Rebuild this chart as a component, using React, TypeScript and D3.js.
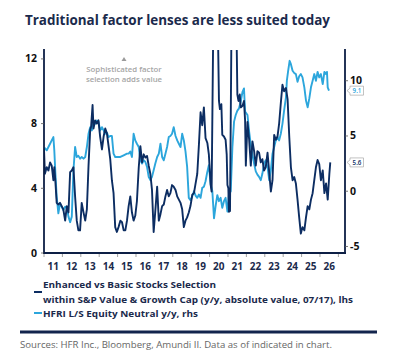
import { useEffect, useRef } from "react";
import * as d3 from "d3";

// Enhanced vs Basic stock selection spread (lhs), decimal years
const darkDates = [
  2011.0, 2011.05, 2011.15, 2011.24, 2011.33, 2011.42, 2011.51, 2011.56, 2011.62, 2011.69, 2011.78, 2011.87, 2011.96,
  2012.05, 2012.15, 2012.24, 2012.33, 2012.42, 2012.51, 2012.6, 2012.69, 2012.78, 2012.87, 2012.96,
  2013.05, 2013.15, 2013.24, 2013.33, 2013.42, 2013.51, 2013.56, 2013.64, 2013.69, 2013.78, 2013.87, 2013.96,
  2014.05, 2014.15, 2014.24, 2014.33, 2014.42, 2014.51, 2014.6, 2014.69, 2014.78, 2014.87, 2014.96,
  2015.05, 2015.15, 2015.24, 2015.33, 2015.42, 2015.51, 2015.6, 2015.69, 2015.78, 2015.87, 2015.96,
  2016.05, 2016.15, 2016.24, 2016.33, 2016.42, 2016.51, 2016.6, 2016.69, 2016.78, 2016.87, 2016.96,
  2017.05, 2017.15, 2017.24, 2017.33, 2017.42, 2017.51, 2017.6, 2017.69, 2017.78, 2017.87, 2017.96,
  2018.05, 2018.15, 2018.24, 2018.33, 2018.42, 2018.51, 2018.6, 2018.69, 2018.78, 2018.87, 2018.96,
  2019.06, 2019.15, 2019.24, 2019.33, 2019.42, 2019.51, 2019.6, 2019.69, 2019.78, 2019.88, 2019.96,
  2020.06, 2020.11, 2020.2, 2020.45, 2020.51, 2020.56, 2020.64, 2020.69, 2020.78, 2020.87, 2020.93, 2020.97,
  2021.02, 2021.05, 2021.11, 2021.19, 2021.46, 2021.51, 2021.57, 2021.64, 2021.69, 2021.79, 2021.87, 2021.93, 2021.97,
  2022.06, 2022.15, 2022.24, 2022.33, 2022.42, 2022.51, 2022.6, 2022.69, 2022.78, 2022.87, 2022.96,
  2023.05, 2023.15, 2023.24, 2023.33, 2023.42, 2023.51, 2023.6, 2023.69, 2023.78, 2023.87, 2023.96,
  2024.05, 2024.15, 2024.24, 2024.33, 2024.42, 2024.51, 2024.6, 2024.69, 2024.78, 2024.87, 2024.96,
  2025.05, 2025.15, 2025.24, 2025.33, 2025.42, 2025.51, 2025.6, 2025.69, 2025.78, 2025.87, 2025.96,
  2026.05, 2026.15, 2026.24, 2026.33, 2026.42, 2026.51, 2026.56,
];
const darkValues = [
  6.4, 4.9, 5.3, 5.1, 5.6, 5.4, 4.5, 5.3, 4.4, 3.1, 3.0, 3.1, 2.9,
  2.7, 2.0, 2.9, 2.5, 5.0, 5.1, 5.3, 3.5, 2.0, 1.4, 1.4,
  3.1, 2.5, 2.0, 2.7, 5.4, 7.6, 7.8, 9.15, 7.7, 8.2, 8.0, 8.2,
  7.2, 6.4, 7.2, 7.7, 7.4, 6.6, 5.8, 4.5, 3.7, 1.6, 1.3,
  1.6, 2.0, 1.9, 1.4, 1.4, 2.0, 2.9, 3.5, 2.5, 2.0, 2.3,
  3.2, 5.3, 6.6, 5.6, 6.1, 5.9, 6.0, 5.4, 4.9, 3.9, 1.3,
  2.6, 4.1, 2.0, 2.4, 2.9, 3.0, 3.5, 3.9, 3.5, 3.7, 4.2,
  4.1, 3.9, 3.5, 3.3, 3.1, 2.7, 1.6, 2.0, 2.2, 2.5, 2.9,
  3.6, 3.7, 4.3, 4.9, 6.7, 8.7, 7.9, 9.0, 7.1, 6.8, 6.1,
  4.2, 3.8, 14.0, 14.0, 9.4, 8.9, 9.2, 7.3, 7.2, 7.0, 6.1, 4.2,
  4.0, 2.55, 2.6, 14.0, 14.0, 9.8, 9.4, 9.8, 9.0, 9.1, 9.4, 8.2, 5.4,
  8.1, 7.0, 5.4, 6.9, 6.3, 5.4, 6.3, 6.2, 5.6, 5.8, 5.1,
  5.3, 6.2, 5.0, 3.8, 4.5, 7.3, 7.0, 7.2, 8.0, 9.25, 10.4,
  10.0, 10.2, 9.5, 7.2, 5.3, 4.5, 4.7, 4.3, 3.3, 2.2, 1.2,
  1.6, 1.4, 2.2, 2.9, 2.7, 3.3, 3.7, 4.5, 5.3, 5.75, 5.5,
  4.5, 5.1, 3.7, 4.3, 3.3, 4.9, 5.6,
];

// HFRI L/S Equity Neutral y/y (rhs)
const lightDates = [
  2011.0, 2011.05, 2011.15, 2011.24, 2011.33, 2011.42, 2011.51, 2011.56, 2011.62, 2011.69, 2011.78, 2011.87, 2011.96,
  2012.05, 2012.15, 2012.24, 2012.33, 2012.42, 2012.51, 2012.6, 2012.69, 2012.78, 2012.87, 2012.96,
  2013.05, 2013.15, 2013.24, 2013.33, 2013.42, 2013.51, 2013.6, 2013.69, 2013.78, 2013.87, 2013.96,
  2014.05, 2014.15, 2014.24, 2014.33, 2014.42, 2014.51, 2014.6, 2014.69, 2014.78, 2014.87, 2014.96,
  2015.15, 2015.33, 2015.51, 2015.6, 2015.69, 2015.78, 2015.87, 2015.96,
  2016.05, 2016.15, 2016.24, 2016.33, 2016.42, 2016.51, 2016.6, 2016.69, 2016.78, 2016.87, 2016.96,
  2017.05, 2017.15, 2017.24, 2017.33, 2017.42, 2017.51, 2017.6, 2017.69, 2017.78, 2017.87, 2017.96,
  2018.05, 2018.15, 2018.24, 2018.33, 2018.42, 2018.51, 2018.6, 2018.69, 2018.78, 2018.87, 2018.96,
  2019.05, 2019.15, 2019.24, 2019.33, 2019.42, 2019.51, 2019.6, 2019.69, 2019.78, 2019.87, 2019.96,
  2020.06, 2020.15, 2020.24, 2020.33, 2020.42, 2020.51, 2020.6, 2020.69, 2020.78, 2020.87, 2020.97,
  2021.05, 2021.15, 2021.24, 2021.33, 2021.42, 2021.51, 2021.6, 2021.69, 2021.79, 2021.87, 2021.93,
  2022.06, 2022.15, 2022.24, 2022.33, 2022.42, 2022.51, 2022.6, 2022.69, 2022.78, 2022.87, 2022.96,
  2023.05, 2023.15, 2023.24, 2023.33, 2023.42, 2023.51, 2023.6, 2023.69, 2023.78, 2023.87, 2023.96,
  2024.05, 2024.15, 2024.2, 2024.27, 2024.35, 2024.42, 2024.51, 2024.6, 2024.69, 2024.78, 2024.87, 2024.96,
  2025.05, 2025.15, 2025.24, 2025.33, 2025.42, 2025.51, 2025.6, 2025.69, 2025.78, 2025.87, 2025.96,
  2026.05, 2026.15, 2026.24, 2026.33, 2026.38, 2026.42, 2026.49,
];
const lightValues = [
  3.7, 3.9, 3.7, 4.0, 4.3, 4.6, 4.9, 3.7, 1.6, -0.5, -2.0, -1.1, -1.4,
  -1.7, -1.4, -1.5, -2.3, -2.8, -2.3, 1.9, 4.0, 3.1, 3.2, 2.95,
  3.1, 2.95, 3.1, 4.0, 5.2, 5.8, 5.5, 6.1, 6.1, 6.4, 6.3,
  5.5, 5.8, 5.5, 5.2, 5.3, 4.9, 5.0, 5.0, 3.4, 3.1, 3.1,
  3.1, 3.25, 3.4, 3.4, 3.6, 3.1, 5.2, 4.6,
  4.3, 4.0, 2.8, 2.5, 2.8, 2.65, 2.2, 1.3, 1.0, 1.3, 1.9,
  2.5, 3.1, 3.4, 4.3, 3.1, 2.8, 3.4, 4.0, 4.9, 5.0, 5.2,
  5.8, 5.0, 4.6, 4.3, 4.0, 5.2, 4.6, 3.6, 2.2, -0.6, -0.8,
  -0.5, 0.0, -0.4, -0.6, -0.3, -0.6, 0.3, 0.4, 0.9, 1.7, 2.35,
  0.6, 0.0, -2.45, -1.3, -0.35, -0.9, -0.6, -1.5, -0.9, -0.6, -1.85,
  -0.3, 0.0, 4.0, 6.3, 6.9, 7.3, 7.5, 8.1, 9.0, 9.3, 7.2,
  6.9, 5.4, 4.2, 3.3, 2.5, 1.8, 1.5, 1.3, 1.0, 1.6, 2.5,
  2.8, 2.2, 1.0, 1.9, 3.4, 4.0, 4.6, 4.9, 4.6, 5.2, 6.1,
  7.3, 8.5, 10.0, 10.9, 11.8, 11.5, 10.9, 10.7, 10.6, 9.9, 10.4, 10.6,
  10.3, 9.4, 8.2, 7.6, 8.4, 9.4, 10.0, 10.6, 10.0, 10.8, 10.3,
  10.6, 9.7, 10.8, 10.6, 10.8, 9.4, 9.1,
];

const years = d3.range(2011, 2027);
const yearLabels = years.map((y) => String(y).slice(2));
const leftTicks = [0, 4, 8, 12];
const rightTicks = [-5, 0, 5, 10];

const NAVY = "#0c2d62";
const BLUE = "#2ca6dc";
const INK = "#1b2a4c";
const FONT = "'Open Sans', sans-serif";

export default function App() {
  const svgRef = useRef<SVGSVGElement>(null);

  useEffect(() => {
    if (!svgRef.current) return;
    const svg = d3.select(svgRef.current);
    svg.selectAll("*").remove();

    const left = 44;
    const right = 345;
    const top = 50;
    const bottom = 253;

    const x = d3.scaleLinear().domain([2011, 2027.36]).range([left, right]);
    const yL = d3.scaleLinear().domain([0, 12.55]).range([bottom, top]);
    const yR = d3.scaleLinear().domain([-5.59, 12.78]).range([bottom, top]);

    svg.append("rect").attr("width", 400).attr("height", 360).attr("fill", "#fff");

    // Title
    svg.append("text")
      .attr("x", 25)
      .attr("y", 24.5)
      .attr("font-family", FONT)
      .attr("font-size", 15)
      .attr("font-weight", 700)
      .attr("fill", INK)
      .attr("textLength", 305)
      .attr("lengthAdjust", "spacingAndGlyphs")
      .text("Traditional factor lenses are less suited today");

    svg.append("clipPath")
      .attr("id", "plot-clip")
      .append("rect")
      .attr("x", left)
      .attr("y", top)
      .attr("width", right - left)
      .attr("height", bottom - top);

    const plot = svg.append("g").attr("clip-path", "url(#plot-clip)");

    const lineL = d3.line<number>()
      .x((_, i) => x(darkDates[i]))
      .y((d) => yL(d));
    const lineR = d3.line<number>()
      .x((_, i) => x(lightDates[i]))
      .y((d) => yR(d));

    plot.append("path")
      .attr("d", lineR(lightValues))
      .attr("fill", "none")
      .attr("stroke", BLUE)
      .attr("stroke-width", 1.9)
      .attr("stroke-linejoin", "round");

    plot.append("path")
      .attr("d", lineL(darkValues))
      .attr("fill", "none")
      .attr("stroke", NAVY)
      .attr("stroke-width", 1.9)
      .attr("stroke-linejoin", "round");

    // Axis lines
    const axisG = svg.append("g").attr("stroke", "#0d1f45");
    axisG.append("line").attr("x1", left).attr("x2", left).attr("y1", top - 1).attr("y2", bottom + 1).attr("stroke-width", 1.8);
    axisG.append("line").attr("x1", right).attr("x2", right).attr("y1", top - 1).attr("y2", bottom + 1).attr("stroke-width", 1.8);
    axisG.append("line").attr("x1", left - 1).attr("x2", right + 1).attr("y1", bottom).attr("y2", bottom).attr("stroke-width", 2);

    // Left ticks
    svg.append("g")
      .selectAll("line")
      .data(leftTicks)
      .join("line")
      .attr("x1", left - 3)
      .attr("x2", left)
      .attr("y1", (d) => yL(d))
      .attr("y2", (d) => yL(d))
      .attr("stroke", "#555")
      .attr("stroke-width", 0.8);
    svg.append("g")
      .selectAll("text")
      .data(leftTicks)
      .join("text")
      .attr("x", left - 7)
      .attr("y", (d) => yL(d) + 3.5)
      .attr("text-anchor", "end")
      .attr("font-family", FONT)
      .attr("font-size", 10.5)
      .attr("font-weight", 700)
      .attr("fill", "#111")
      .text((d) => d);

    // Right ticks
    svg.append("g")
      .selectAll("line")
      .data(rightTicks)
      .join("line")
      .attr("x1", right)
      .attr("x2", right + 3)
      .attr("y1", (d) => yR(d))
      .attr("y2", (d) => yR(d))
      .attr("stroke", "#555")
      .attr("stroke-width", 0.8);
    svg.append("g")
      .selectAll("text")
      .data(rightTicks)
      .join("text")
      .attr("x", right + 5)
      .attr("y", (d) => yR(d) + 3.5)
      .attr("font-family", FONT)
      .attr("font-size", 10.5)
      .attr("font-weight", 700)
      .attr("fill", "#111")
      .text((d) => d);

    // Year ticks and labels
    svg.append("g")
      .selectAll("line")
      .data(d3.range(2011, 2028))
      .join("line")
      .attr("x1", (d) => x(d))
      .attr("x2", (d) => x(d))
      .attr("y1", bottom + 1)
      .attr("y2", bottom + 4)
      .attr("stroke", "#888")
      .attr("stroke-width", 0.8);
    svg.append("g")
      .selectAll("text")
      .data(years)
      .join("text")
      .attr("x", (d) => x(d + 0.5))
      .attr("y", 270)
      .attr("text-anchor", "middle")
      .attr("font-family", FONT)
      .attr("font-size", 10)
      .attr("font-weight", 700)
      .attr("fill", INK)
      .text((_, i) => yearLabels[i]);

    // Annotation
    const ax = 124;
    svg.append("path")
      .attr("d", `M${ax - 2.5},61 L${ax + 2.5},61 L${ax},57 Z`)
      .attr("fill", "#9a9a9a");
    svg.append("g")
      .selectAll("text")
      .data(["Sophisticated factor", "selection adds value"])
      .join("text")
      .attr("x", ax)
      .attr("y", (_, i) => 71.5 + i * 10.5)
      .attr("text-anchor", "middle")
      .attr("font-family", FONT)
      .attr("font-size", 7.8)
      .attr("font-weight", 600)
      .attr("fill", "#a6a6a6")
      .text((d) => d);

    // End-value callouts
    const callouts = [
      { y: yR(lightValues[lightValues.length - 1]), v: lightValues[lightValues.length - 1], c: BLUE },
      { y: yL(darkValues[darkValues.length - 1]), v: darkValues[darkValues.length - 1], c: NAVY },
    ];
    const cg = svg.append("g").selectAll("g").data(callouts).join("g");
    cg.append("path")
      .attr("d", (d) => {
        const cy = d.y;
        return `M347,${cy} L350,${cy - 2.5} L350,${cy - 4.5} L363.5,${cy - 4.5} L363.5,${cy + 4.5} L350,${cy + 4.5} L350,${cy + 2.5} Z`;
      })
      .attr("fill", "#fff")
      .attr("stroke", "#9a9a9a")
      .attr("stroke-width", 0.6);
    cg.append("text")
      .attr("x", 357)
      .attr("y", (d) => d.y + 2.2)
      .attr("text-anchor", "middle")
      .attr("font-family", FONT)
      .attr("font-size", 6.2)
      .attr("font-weight", 600)
      .attr("fill", (d) => d.c)
      .text((d) => d.v.toFixed(1));

    // Legend
    svg.append("line").attr("x1", 34).attr("x2", 42).attr("y1", 292).attr("y2", 292).attr("stroke", NAVY).attr("stroke-width", 2);
    svg.append("line").attr("x1", 34).attr("x2", 42).attr("y1", 313).attr("y2", 313).attr("stroke", BLUE).attr("stroke-width", 2);
    const legendLines = [
      { t: "Enhanced vs Basic Stocks Selection", y: 288, w: 173 },
      { t: "within S&P Value & Growth Cap (y/y, absolute value, 07/17), lhs", y: 302.5, w: 310 },
      { t: "HFRI L/S Equity Neutral y/y, rhs", y: 316.8, w: 155 },
    ];
    svg.append("g")
      .selectAll("text")
      .data(legendLines)
      .join("text")
      .attr("x", 43)
      .attr("y", (d) => d.y)
      .attr("font-family", FONT)
      .attr("font-size", 9.5)
      .attr("font-weight", 700)
      .attr("fill", INK)
      .attr("textLength", (d) => d.w)
      .attr("lengthAdjust", "spacingAndGlyphs")
      .text((d) => d.t);

    svg.append("line")
      .attr("x1", 20)
      .attr("x2", 377)
      .attr("y1", 332)
      .attr("y2", 332)
      .attr("stroke", "#13254d")
      .attr("stroke-width", 3);

    svg.append("text")
      .attr("x", 20)
      .attr("y", 347.5)
      .attr("font-family", FONT)
      .attr("font-size", 9)
      .attr("fill", "#666")
      .attr("textLength", 312)
      .attr("lengthAdjust", "spacingAndGlyphs")
      .text("Sources: HFR Inc., Bloomberg, Amundi II. Data as of indicated in chart.");
  }, []);

  return (
    <svg
      ref={svgRef}
      width={400}
      height={360}
      style={{ position: "absolute", left: 0, top: 0, display: "block" }}
    />
  );
}
